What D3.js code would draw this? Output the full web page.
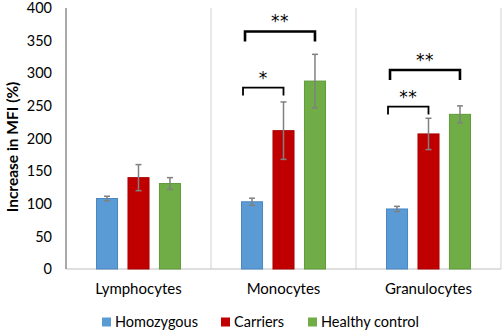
<!DOCTYPE html>
<html>
<head>
<meta charset="utf-8">
<script src="https://cdn.jsdelivr.net/npm/d3@7"></script>
<style>
  body { margin: 0; background: #fff; }
  text { font-family: Lato, "Open Sans", sans-serif; fill: #000; }
</style>
</head>
<body>
<svg width="503" height="332"></svg>
<script>
const groups = ["Lymphocytes", "Monocytes", "Granulocytes"];
const series = ["Homozygous", "Carriers", "Healthy control"];
const colors = ["#5b9bd5", "#c00000", "#70ad47"];
const strokes = ["#4a86c0", "#a80000", "#5f9a3a"];
// means per group, one array per series
const homozygous = [108, 103, 92];
const carriers = [140, 212, 207];
const healthy = [131, 288, 237];
// error bar half-widths
const errHomozygous = [3.5, 5.5, 4];
const errCarriers = [20, 44, 24];
const errHealthy = [9, 41, 13];
const yTicks = [0, 50, 100, 150, 200, 250, 300, 350, 400];
// significance brackets: group, series index from/to, level, label
const brackets = [
  { group: "Monocytes", from: 0, to: 1, level: 278, label: "*", heavy: false },
  { group: "Monocytes", from: 0, to: 2, level: 364, label: "**", heavy: true },
  { group: "Granulocytes", from: 0, to: 1, level: 249, label: "**", heavy: false },
  { group: "Granulocytes", from: 0, to: 2, level: 305, label: "**", heavy: true }
];

const values = [homozygous, carriers, healthy];
const errors = [errHomozygous, errCarriers, errHealthy];

const svg = d3.select("svg"),
  margin = { top: 8, right: 2, bottom: 63, left: 66 },
  width = +svg.attr("width") - margin.left - margin.right,
  height = +svg.attr("height") - margin.top - margin.bottom;

const g = svg.append("g").attr("transform", `translate(${margin.left},${margin.top})`);

const x0 = d3.scaleBand().domain(groups).range([0, width]);
const x1 = d3.scaleBand().domain(d3.range(series.length))
  .range([x0.bandwidth() * 0.207, x0.bandwidth() * 0.793])
  .paddingInner(0.3);
const y = d3.scaleLinear().domain([0, 400]).range([height, 0]);

// category separators
g.selectAll(".sep")
  .data(groups)
  .enter()
  .append("line")
  .attr("x1", d => x0(d) + x0.bandwidth())
  .attr("x2", d => x0(d) + x0.bandwidth())
  .attr("y1", 0)
  .attr("y2", height)
  .attr("stroke", "#d9d9d9")
  .attr("stroke-width", 1.2);

// baseline and left axis
g.append("line")
  .attr("x1", 0).attr("x2", width)
  .attr("y1", y(0)).attr("y2", y(0))
  .attr("stroke", "#bfbfbf").attr("stroke-width", 1.2);
g.append("line")
  .attr("x1", 0).attr("x2", 0)
  .attr("y1", 0).attr("y2", height)
  .attr("stroke", "#8c8c8c").attr("stroke-width", 1.5);

// y tick labels
const yAxis = g.append("g")
  .call(d3.axisLeft(y).tickValues(yTicks).tickSize(0).tickPadding(14));
yAxis.select(".domain").remove();
yAxis.selectAll("text")
  .style("font-family", "Lato, 'Open Sans', sans-serif")
  .style("font-size", "14.5px")
  .attr("fill", "#000");

// x category labels
const xAxis = g.append("g")
  .attr("transform", `translate(0, ${height})`)
  .call(d3.axisBottom(x0).tickSize(0).tickPadding(14));
xAxis.select(".domain").remove();
xAxis.selectAll("text")
  .style("font-family", "Lato, 'Open Sans', sans-serif")
  .style("font-size", "15px")
  .attr("fill", "#000");

// y axis label
svg.append("text")
  .attr("transform", "rotate(-90)")
  .attr("x", -147)
  .attr("y", 18)
  .attr("text-anchor", "middle")
  .attr("font-size", "15.5px")
  .attr("font-weight", "bold")
  .text("Increase in MFI (%)");

// bars
const rows = [];
groups.forEach((grp, gi) => {
  series.forEach((s, si) => {
    rows.push({ group: grp, si, value: values[si][gi], err: errors[si][gi] });
  });
});

g.selectAll(".bar")
  .data(rows)
  .enter()
  .append("rect")
  .attr("x", d => x0(d.group) + x1(d.si) + 0.5)
  .attr("y", d => y(d.value))
  .attr("width", x1.bandwidth() - 1)
  .attr("height", d => y(0) - y(d.value))
  .attr("fill", d => colors[d.si])
  .attr("stroke", d => strokes[d.si])
  .attr("stroke-width", 1);

// error bars
const cx = d => x0(d.group) + x1(d.si) + x1.bandwidth() / 2;
const eb = g.selectAll(".err")
  .data(rows)
  .enter()
  .append("g")
  .attr("stroke", "#808080")
  .attr("stroke-width", 1.5);
eb.append("line")
  .attr("x1", cx).attr("x2", cx)
  .attr("y1", d => y(d.value + d.err))
  .attr("y2", d => y(d.value - d.err));
eb.append("line")
  .attr("x1", d => cx(d) - 3).attr("x2", d => cx(d) + 3)
  .attr("y1", d => y(d.value + d.err))
  .attr("y2", d => y(d.value + d.err));
eb.append("line")
  .attr("x1", d => cx(d) - 3).attr("x2", d => cx(d) + 3)
  .attr("y1", d => y(d.value - d.err))
  .attr("y2", d => y(d.value - d.err));

// significance brackets
const bx1 = d => x0(d.group) + x1(d.from) + (d.heavy ? 4 : 2);
const bx2 = d => x0(d.group) + x1(d.to) + x1.bandwidth() / 2;
const br = g.selectAll(".bracket")
  .data(brackets)
  .enter()
  .append("g");
br.append("path")
  .attr("d", d => {
    const yy = y(d.level), leg = d.heavy ? 10 : 8;
    return `M${bx1(d)},${yy + leg}V${yy}H${bx2(d)}V${yy + leg}`;
  })
  .attr("fill", "none")
  .attr("stroke", "#000")
  .attr("stroke-width", d => d.heavy ? 2.6 : 1.8);
br.append("text")
  .attr("x", d => (bx1(d) + bx2(d)) / 2)
  .attr("y", d => y(d.level) - 4)
  .attr("text-anchor", "middle")
  .style("font-family", "'DejaVu Sans', sans-serif")
  .style("font-size", "17px")
  .style("fill", "#000")
  .attr("letter-spacing", "0.5px")
  .text(d => d.label);

// legend
const legendX = [102, 221, 308];
const legend = svg.selectAll(".legend")
  .data(series)
  .enter()
  .append("g")
  .attr("transform", (d, i) => `translate(${legendX[i]}, 322)`);
legend.append("rect")
  .attr("x", 0).attr("y", -4.5)
  .attr("width", 9).attr("height", 9)
  .attr("fill", (d, i) => colors[i]);
legend.append("text")
  .attr("x", 13)
  .attr("dy", "0.35em")
  .attr("font-size", "14.5px")
  .text(d => d);
</script>
</body>
</html>
